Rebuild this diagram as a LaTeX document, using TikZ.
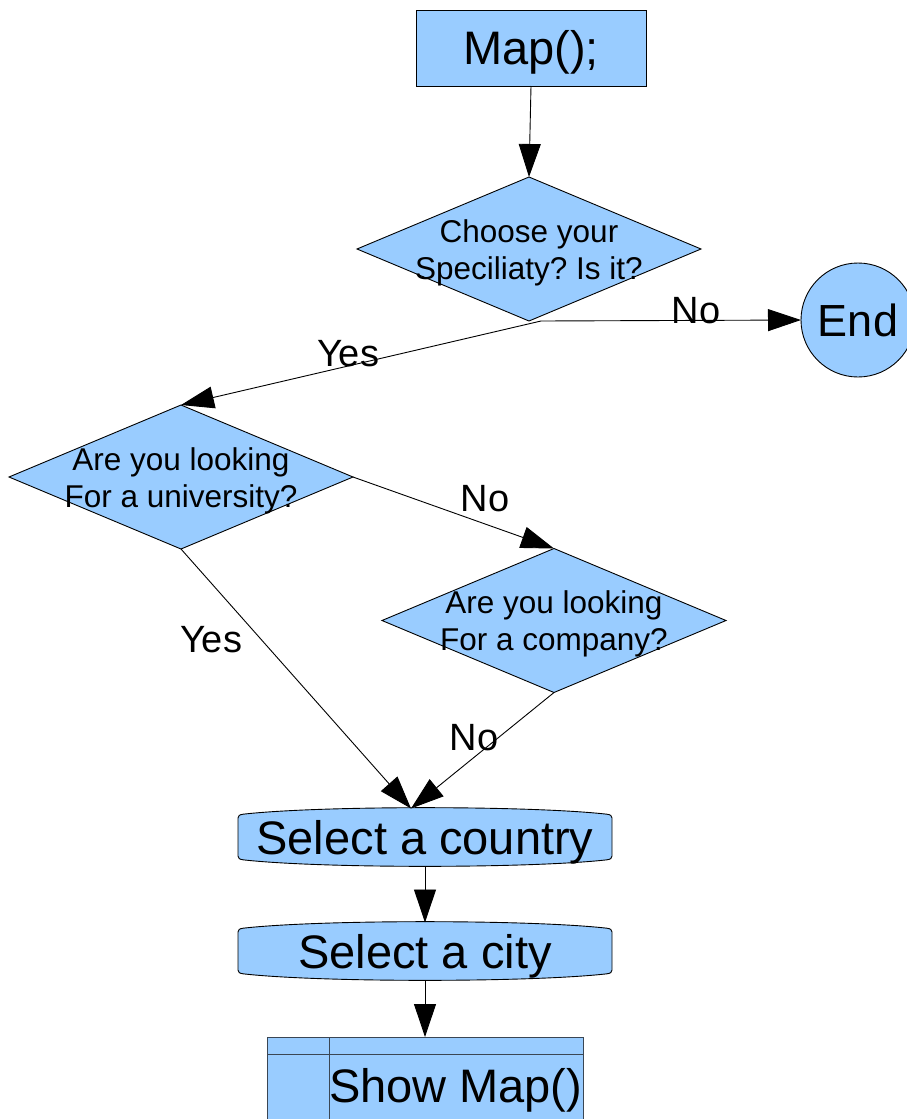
\documentclass[tikz,border=0pt]{standalone}
\usepackage{fontspec}
\setmainfont{Liberation Sans}
\frenchspacing
\usetikzlibrary{arrows.meta,shapes.geometric}
\definecolor{boxblue}{HTML}{99CCFF}
\definecolor{storeline}{HTML}{3A4654}
\tikzset{
  tapebox/.pic={
    \draw[draw=black,line width=0.9pt,fill=boxblue]
      (-187,19) -- (-187,-19)
      .. controls (-187,-21.5) and (-185.5,-22.2) .. (-182,-22.8)
      .. controls (-105,-31.5) and (105,-31.5) .. (182,-22.8)
      .. controls (185.5,-22.2) and (187,-21.5) .. (187,-19)
      -- (187,19)
      .. controls (187,21.5) and (185.5,22.2) .. (182,22.8)
      .. controls (105,31.5) and (-105,31.5) .. (-182,22.8)
      .. controls (-185.5,22.2) and (-187,21.5) .. (-187,19) -- cycle;
  }
}
\begin{document}
\begin{tikzpicture}[x=1pt,y=-1pt,
  every node/.style={inner sep=0pt,outer sep=0pt},
  shapeline/.style={draw=black,line width=0.9pt,fill=boxblue},
  decision/.style={shapeline,diamond,minimum width=344pt,minimum height=144pt},
  dtext/.style={align=center,yshift=-3.5pt,font=\fontsize{31.5}{37}\selectfont},
  big/.style={font=\fontsize{47}{56}\selectfont,text height=33.6pt,text depth=0pt},
  lbl/.style={anchor=base,font=\fontsize{38}{45}\selectfont},
  conn/.style={draw=black,line width=0.9pt,-{Triangle[length=33pt,width=22pt]}},
]
\useasboundingbox (0,0) rectangle (907,1119);

% nodes
\node[shapeline,minimum width=230pt,minimum height=76pt,big] (map) at (531,48) {Map();};
\node[decision] (d1) at (529,249) {};
\node[dtext] (t1) at (d1.center) {Choose your\\Speciliaty? Is it?};
\node[shapeline,circle,minimum size=114pt,font=\fontsize{45}{54}\selectfont,text height=32.2pt,text depth=0pt] (end) at (858,320) {End};
\node[decision] (d2) at (181,477) {};
\node[dtext] (t2) at (d2.center) {Are you looking\\For a university?};
\node[decision] (d3) at (554,620.5) {};
\node[dtext] (t3) at (d3.center) {Are you looking\\For a company?};

\pic at (425,837) {tapebox};
\node[big,minimum width=374pt,minimum height=58pt] (country) at (425,837.5) {Select a country};
\pic at (425,951) {tapebox};
\node[big,minimum width=374pt,minimum height=58pt] (city) at (425,951.5) {Select a city};

\node[draw=storeline,line width=0.9pt,fill=boxblue,minimum width=316pt,minimum height=93pt] (show) at (425,1083.5) {};
\draw[storeline,line width=0.9pt] ([yshift=-17pt]show.north west) -- ([yshift=-17pt]show.north east);
\draw[storeline,line width=0.9pt] ([xshift=62pt]show.north west) -- ([xshift=62pt]show.south west);
\node[font=\fontsize{47}{56}\selectfont,anchor=base west] (showtxt) at (329,1102) {Show Map()};

% connectors
\coordinate (d1out) at ([xshift=12pt]d1.south);
\coordinate (cin) at ([xshift=-14pt]country.north);
\draw[conn] (map.south) -- (d1.north);
\draw[conn] (d1out) -- (end.west);
\draw[conn] (d1out) -- (d2.north);
\draw[conn] (d2.east) -- (d3.north);
\draw[conn] (d2.south) -- (cin);
\draw[conn] (d3.south) -- (cin);
\draw[conn] (country.south) -- (city.north);
\draw[conn] (city.south) -- (show.north);

% labels
\node[lbl] (no1) at (696,323) {No};
\node[lbl] (yes1) at (348,366) {Yes};
\node[lbl] (no2) at (485,511) {No};
\node[lbl] (yes2) at (211,652) {Yes};
\node[lbl] (no3) at (474,750) {No};
\end{tikzpicture}
\end{document}
